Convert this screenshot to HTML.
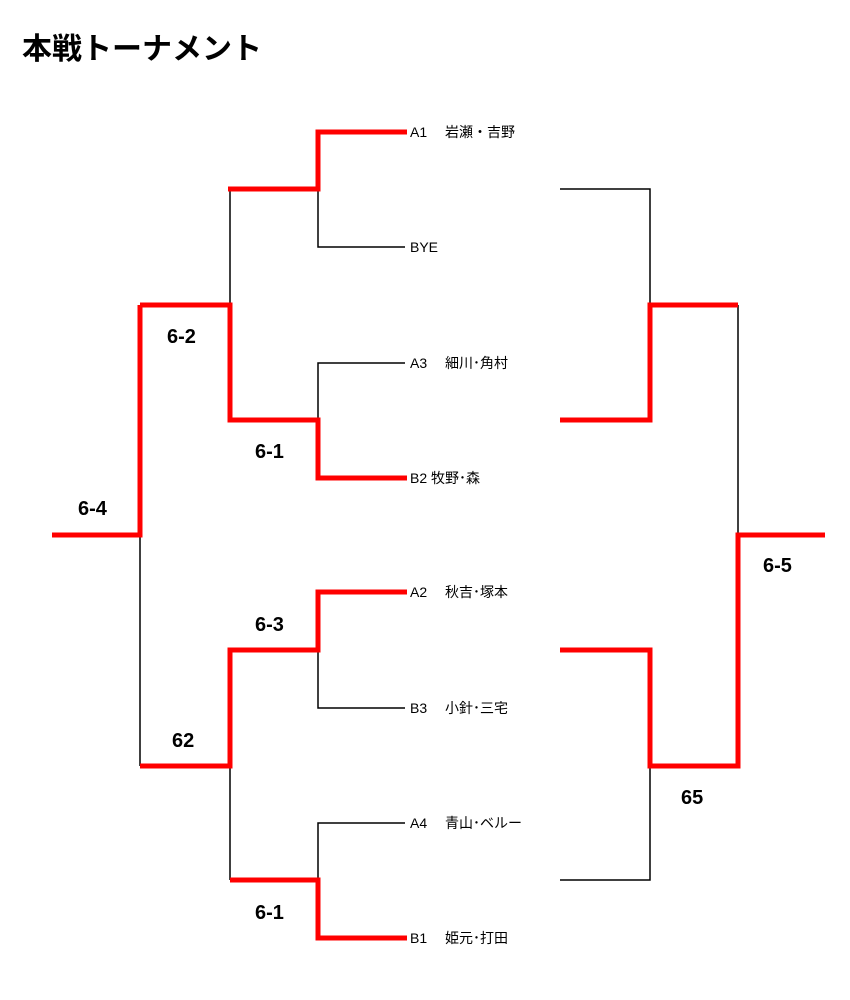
<!DOCTYPE html>
<html><head><meta charset="utf-8"><style>
body{margin:0;background:#fff;}
svg{display:block}
</style></head><body>
<svg width="850" height="1000" xmlns="http://www.w3.org/2000/svg">
<text x="22" y="59" font-family="Liberation Sans, Noto Sans CJK JP, sans-serif" font-weight="bold" font-size="30">本戦トーナメント</text>
<g stroke="#000" stroke-width="1.5" fill="none">
<path d="M318 189V247H405"/>
<path d="M230 189V305"/>
<path d="M405 363H318V420"/>
<path d="M140 535V766"/>
<path d="M318 650V708H405"/>
<path d="M230 766V880"/>
<path d="M405 823H318V880"/>
<path d="M560 189H650V305"/>
<path d="M738 305V535"/>
<path d="M650 766V880H560"/>
</g>
<g stroke="#f00" stroke-width="5" fill="none" stroke-linejoin="miter">
<path d="M407 132H318V189H228"/>
<path d="M140 305H230V420H318V478H407"/>
<path d="M52 535H140V305"/>
<path d="M140 766H230V650H318V592H407"/>
<path d="M230 880H318V938H407"/>
<path d="M560 420H650V305H738"/>
<path d="M560 650H650V766H738V535H825"/>
</g>
<g font-family="Liberation Sans, Noto Sans CJK JP, sans-serif" font-size="14">
<text x="410" y="137">A1　 岩瀬・吉野</text>
<text x="410" y="252">BYE</text>
<text x="410" y="368">A3　 細川･角村</text>
<text x="410" y="483">B2 牧野･森</text>
<text x="410" y="597">A2　 秋吉･塚本</text>
<text x="410" y="713">B3　 小針･三宅</text>
<text x="410" y="828">A4　 青山･ベルー</text>
<text x="410" y="943">B1　 姫元･打田</text>
</g>
<g font-family="Liberation Sans, sans-serif" font-size="20" font-weight="bold">
<text x="167" y="343">6-2</text>
<text x="255" y="458">6-1</text>
<text x="78" y="515">6-4</text>
<text x="255" y="631">6-3</text>
<text x="172" y="747">62</text>
<text x="255" y="919">6-1</text>
<text x="763" y="572">6-5</text>
<text x="681" y="804">65</text>
</g>
</svg>
</body></html>
